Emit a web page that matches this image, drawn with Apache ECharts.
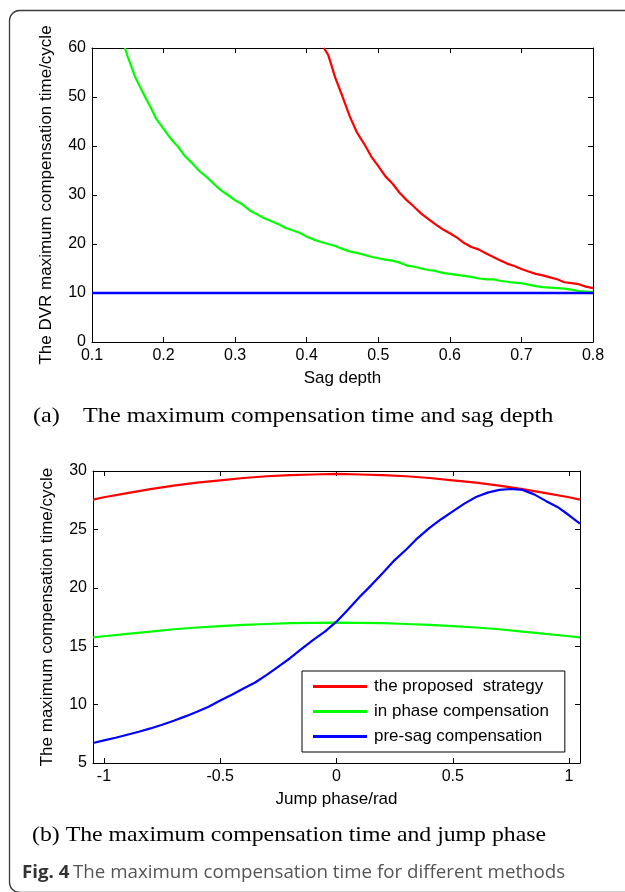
<!DOCTYPE html>
<html>
<head>
<meta charset="utf-8">
<script src="https://cdn.jsdelivr.net/npm/echarts@6/dist/echarts.min.js"></script>
<style>
html,body{margin:0;padding:0;background:#fff;}
#c{width:625px;height:892px;}
</style>
</head>
<body>
<div id="c"></div>
<script>
// ---- Panel (a): sag depth ----
const sagTicksX = [0.1, 0.2, 0.3, 0.4, 0.5, 0.6, 0.7, 0.8];
const sagDepthRed = [0.424,0.43,0.44,0.45,0.46,0.47,0.48,0.49,0.50,0.51,0.52,0.53,0.54,0.55,0.56,0.57,0.58,0.59,0.60,0.61,0.62,0.63,0.64,0.65,0.66,0.67,0.68,0.69,0.70,0.71,0.72,0.73,0.74,0.75,0.76,0.77,0.78,0.79,0.80];
const sagRed = [60,58.6,53.9,50.1,46.1,42.8,40.5,37.9,35.9,33.8,32.3,30.4,28.9,27.6,26.2,25.1,24.0,23.0,22.2,21.3,20.2,19.4,18.9,18.1,17.4,16.7,16.0,15.5,14.9,14.4,13.9,13.6,13.2,12.8,12.2,12.0,11.8,11.3,11.0];
const sagDepthGreen = [0.146,0.15,0.16,0.17,0.18,0.19,0.20,0.21,0.22,0.23,0.24,0.25,0.26,0.27,0.28,0.29,0.30,0.31,0.32,0.33,0.34,0.35,0.36,0.37,0.38,0.39,0.40,0.41,0.42,0.43,0.44,0.45,0.46,0.47,0.48,0.49,0.50,0.51,0.52,0.53,0.54,0.55,0.56,0.57,0.58,0.59,0.60,0.61,0.62,0.63,0.64,0.65,0.66,0.67,0.68,0.69,0.70,0.71,0.72,0.73,0.74,0.75,0.76,0.77,0.78,0.79,0.80];
const sagGreen = [60,58.2,54.2,51.2,48.4,45.5,43.5,41.5,39.9,37.9,36.5,34.9,33.7,32.3,31.0,30.0,28.9,28.1,26.9,26.1,25.3,24.7,24.1,23.3,22.8,22.3,21.5,20.9,20.4,20.0,19.6,19.0,18.5,18.2,17.8,17.4,17.1,16.8,16.6,16.2,15.6,15.4,15.0,14.7,14.5,14.1,13.9,13.7,13.5,13.3,13.0,12.8,12.8,12.5,12.3,12.1,12.0,11.7,11.4,11.2,11.1,11.0,10.9,10.7,10.4,10.3,10.2];
const sagDepthBlue = [0.1, 0.8];
const sagBlue = [10, 10];

// ---- Panel (b): jump phase ----
const phaseTicks = [-1, -0.5, 0, 0.5, 1];
const phaseRG = [-1.047,-1.0,-0.9,-0.8,-0.7,-0.6,-0.5,-0.4,-0.3,-0.2,-0.1,0,0.1,0.2,0.3,0.4,0.5,0.6,0.7,0.8,0.9,1.0,1.047];
const phaseRed = [27.55,27.75,28.1,28.45,28.75,29.0,29.2,29.4,29.55,29.65,29.7,29.75,29.7,29.65,29.55,29.4,29.2,29.0,28.75,28.45,28.1,27.75,27.55];
const phaseGreen = [15.75,15.85,16.05,16.25,16.45,16.6,16.72,16.82,16.9,16.97,17.0,17.02,17.0,16.97,16.9,16.82,16.72,16.6,16.45,16.25,16.05,15.85,15.75];
const phaseB = [-1.047,-1.0,-0.95,-0.9,-0.85,-0.8,-0.75,-0.7,-0.65,-0.6,-0.55,-0.5,-0.45,-0.4,-0.35,-0.3,-0.25,-0.2,-0.15,-0.1,-0.05,0,0.05,0.1,0.15,0.2,0.25,0.3,0.35,0.4,0.45,0.5,0.55,0.6,0.65,0.7,0.75,0.8,0.85,0.9,0.95,1.0,1.047];
const phaseBlue = [6.71,6.94,7.16,7.42,7.68,7.96,8.27,8.62,8.99,9.39,9.81,10.35,10.84,11.38,11.89,12.55,13.26,13.97,14.77,15.54,16.25,17.1,18.15,19.24,20.23,21.29,22.37,23.28,24.28,25.13,25.87,26.55,27.21,27.78,28.15,28.38,28.46,28.38,28.0,27.44,26.92,26.21,25.5];

const legendNames = ['the proposed  strategy', 'in phase compensation', 'pre-sag compensation'];

const zip = (xs, ys) => xs.map((x, i) => [x, ys[i]]);

const FONT = 'Liberation Sans';
const tickStyle = {show: true, inside: true, length: 5, lineStyle: {color: '#000', width: 1}};
const lineAx = {show: true, onZero: false, lineStyle: {color: '#000', width: 1}};
const lbl = {color: '#000', fontFamily: FONT, fontSize: 16};
const nameStyle = {color: '#000', fontFamily: FONT, fontSize: 17};

function mirrorX(grid, min, max, extra) {
  return Object.assign({
    type: 'value', gridIndex: grid, position: 'top', min, max,
    axisLine: lineAx, axisTick: tickStyle, axisLabel: {show: false}, splitLine: {show: false}
  }, extra || {});
}
function mirrorY(grid, min, max, interval) {
  return {
    type: 'value', gridIndex: grid, position: 'right', min, max, interval,
    axisLine: lineAx, axisTick: tickStyle, axisLabel: {show: false}, splitLine: {show: false}
  };
}

const PI3 = Math.PI / 3;

const option = {
  animation: false,
  backgroundColor: '#fff',
  grid: [
    {left: 92, top: 48, width: 501, height: 294},
    {left: 93, top: 471, width: 487, height: 292}
  ],
  xAxis: [
    {
      type: 'value', gridIndex: 0, min: 0.1, max: 0.8, interval: 0.1,
      axisLine: lineAx, axisTick: tickStyle, splitLine: {show: false},
      axisLabel: Object.assign({margin: 6, formatter: v => (+v).toFixed(1)}, lbl),
      name: 'Sag depth', nameLocation: 'middle', nameGap: 28, nameTextStyle: nameStyle
    },
    mirrorX(0, 0.1, 0.8, {interval: 0.1}),
    {
      type: 'value', gridIndex: 1, min: -PI3, max: PI3,
      axisLine: lineAx,
      axisTick: Object.assign({customValues: phaseTicks}, tickStyle),
      splitLine: {show: false},
      axisLabel: Object.assign({margin: 6, customValues: phaseTicks, formatter: v => String(v)}, lbl),
      name: 'Jump phase/rad', nameLocation: 'middle', nameGap: 28, nameTextStyle: nameStyle
    },
    mirrorX(1, -PI3, PI3, {axisTick: Object.assign({customValues: phaseTicks}, tickStyle)})
  ],
  yAxis: [
    {
      type: 'value', gridIndex: 0, min: 0, max: 60, interval: 10,
      axisLine: lineAx, axisTick: tickStyle, splitLine: {show: false},
      axisLabel: Object.assign({margin: 6}, lbl),
      name: 'The DVR maximum compensation time/cycle', nameLocation: 'middle', nameGap: 37,
      nameTextStyle: nameStyle
    },
    mirrorY(0, 0, 60, 10),
    {
      type: 'value', gridIndex: 1, min: 5, max: 30, interval: 5,
      axisLine: lineAx, axisTick: tickStyle, splitLine: {show: false},
      axisLabel: Object.assign({margin: 6}, lbl),
      name: 'The maximum compensation time/cycle', nameLocation: 'middle', nameGap: 37,
      nameTextStyle: nameStyle
    },
    mirrorY(1, 5, 30, 5)
  ],
  legend: {
    data: legendNames,
    orient: 'vertical',
    left: 302, top: 671,
    padding: [7, 16, 7, 11],
    icon: 'rect',
    itemWidth: 54, itemHeight: 3, itemGap: 8,
    backgroundColor: '#fff',
    borderColor: '#000', borderWidth: 1, borderRadius: 0,
    textStyle: {color: '#000', fontFamily: FONT, fontSize: 17, padding: [0, 0, 0, 2], lineHeight: 17},
    selectedMode: false
  },
  series: [
    {name: 'a-red', type: 'line', xAxisIndex: 0, yAxisIndex: 0, data: zip(sagDepthRed, sagRed), symbol: 'none', lineStyle: {color: '#ff0000', width: 2.2}, itemStyle: {color: '#ff0000'}, clip: true},
    {name: 'a-green', type: 'line', xAxisIndex: 0, yAxisIndex: 0, data: zip(sagDepthGreen, sagGreen), symbol: 'none', lineStyle: {color: '#00ff00', width: 2.2}, itemStyle: {color: '#00ff00'}, clip: true},
    {name: 'a-blue', type: 'line', xAxisIndex: 0, yAxisIndex: 0, data: zip(sagDepthBlue, sagBlue), symbol: 'none', lineStyle: {color: '#0000ff', width: 2.5}, itemStyle: {color: '#0000ff'}, clip: true},
    {name: legendNames[0], type: 'line', xAxisIndex: 2, yAxisIndex: 2, data: zip(phaseRG, phaseRed), symbol: 'none', lineStyle: {color: '#ff0000', width: 2.2}, itemStyle: {color: '#ff0000'}, clip: true},
    {name: legendNames[1], type: 'line', xAxisIndex: 2, yAxisIndex: 2, data: zip(phaseRG, phaseGreen), symbol: 'none', lineStyle: {color: '#00ff00', width: 2.2}, itemStyle: {color: '#00ff00'}, clip: true},
    {name: legendNames[2], type: 'line', xAxisIndex: 2, yAxisIndex: 2, data: zip(phaseB, phaseBlue), symbol: 'none', lineStyle: {color: '#0000ff', width: 2.2}, itemStyle: {color: '#0000ff'}, clip: true}
  ],
  graphic: [
    {type: 'rect', left: 7, top: 8, z: -10, silent: true,
     shape: {width: 700, height: 882, r: 10},
     style: {fill: 'none', stroke: '#3a3a3a', lineWidth: 1.3}},
    {type: 'text', x: 33, y: 416, scaleX: 1.1, style: {text: '(a)', font: '22px "Liberation Serif"', fill: '#000', verticalAlign: 'middle'}},
    {type: 'text', x: 83, y: 416, scaleX: 1.1, style: {text: 'The maximum compensation time and sag depth', font: '22px "Liberation Serif"', fill: '#000', verticalAlign: 'middle'}},
    {type: 'text', x: 32, y: 835, scaleX: 1.08, style: {text: '(b) The maximum compensation time and jump phase', font: '22px "Liberation Serif"', fill: '#000', verticalAlign: 'middle'}},
    {type: 'text', x: 22, y: 873, scaleX: 1.07, style: {
      text: '{b|Fig. 4} {r|The maximum compensation time for different methods}',
      verticalAlign: 'middle',
      rich: {
        b: {fontFamily: 'Open Sans', fontSize: 17.5, fontWeight: 'bold', fill: '#333'},
        r: {fontFamily: 'Open Sans', fontSize: 17.5, fill: '#555'}
      }
    }}
  ]
};

const chart = echarts.init(document.getElementById('c'));
chart.setOption(option);
</script>
</body>
</html>
